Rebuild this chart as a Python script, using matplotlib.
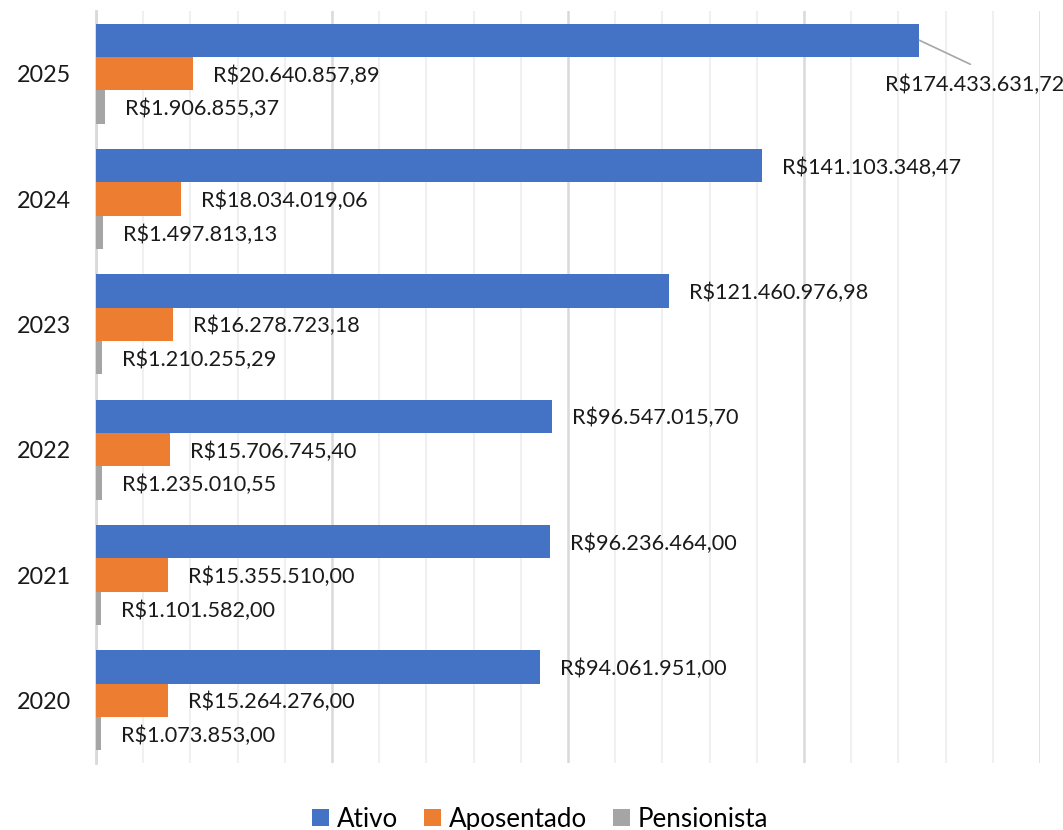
import numpy as np
import matplotlib.pyplot as plt
from matplotlib.ticker import MultipleLocator

# values (R$)
years = ['2020', '2021', '2022', '2023', '2024', '2025']
ativo = [94061951.00, 96236464.00, 96547015.70, 121460976.98, 141103348.47, 174433631.72]
aposentado = [15264276.00, 15355510.00, 15706745.40, 16278723.18, 18034019.06, 20640857.89]
pensionista = [1073853.00, 1101582.00, 1235010.55, 1210255.29, 1497813.13, 1906855.37]

series_names = ['Ativo', 'Aposentado', 'Pensionista']
colors = ['#4472C4', '#ED7D31', '#A5A5A5']

plt.rcParams['font.family'] = ['Lato', 'DejaVu Sans']


def brl(v):
    s = f"{v:,.2f}"
    s = s.replace(',', '_').replace('.', ',').replace('_', '.')
    return 'R$' + s


fig = plt.figure(figsize=(10.63, 8.30), dpi=100)
ax = fig.add_axes([96 / 1063, 1 - 763 / 830, (1040 - 96) / 1063, (763 - 11) / 830])

y = np.arange(len(years))
h = 0.8 / 3
offsets = [h, 0, -h]
all_series = [ativo, aposentado, pensionista]

bars = []
for vals, off, col, name in zip(all_series, offsets, colors, series_names):
    b = ax.barh(y + off, vals, height=h, color=col, label=name, zorder=3)
    bars.append(b)

label_size = 15.6

# data labels
for s_idx, (vals, off) in enumerate(zip(all_series, offsets)):
    for i, v in enumerate(vals):
        if s_idx == 0 and i == len(years) - 1:
            # biggest bar: label pushed out with a leader line
            ax.annotate('', xy=(v, y[i] + off), xytext=(51, -24),
                        textcoords='offset pixels',
                        arrowprops=dict(arrowstyle='-', color='#A6A6A6', lw=1.2,
                                        shrinkA=0, shrinkB=0))
            ax.annotate(brl(v), xy=(v, y[i] + off), xytext=(-34, -45),
                        textcoords='offset pixels', ha='left', va='center',
                        fontsize=label_size, color='#1a1a1a', annotation_clip=False)
        else:
            ax.annotate(brl(v), xy=(v, y[i] + off), xytext=(20, -2),
                        textcoords='offset pixels', ha='left', va='center',
                        fontsize=label_size, color='#1a1a1a', annotation_clip=False)

ax.set_xlim(0, 200e6)
ax.set_ylim(-0.5, len(years) - 0.5)
ax.xaxis.set_major_locator(MultipleLocator(50e6))
ax.xaxis.set_minor_locator(MultipleLocator(10e6))
ax.grid(axis='x', which='minor', color='#F0F0F0', linewidth=1.5, zorder=0)
ax.grid(axis='x', which='major', color='#D9D9D9', linewidth=1.8, zorder=0)
ax.set_axisbelow(True)

for sp in ['top', 'right', 'bottom']:
    ax.spines[sp].set_visible(False)
ax.spines['left'].set_color('#D9D9D9')
ax.spines['left'].set_linewidth(2)

ax.set_yticks(y)
ax.set_yticklabels(years, fontsize=16.8, color='#1a1a1a')
ax.tick_params(axis='y', length=0, pad=18)
ax.tick_params(axis='x', which='both', length=0, labelbottom=False)

fig.legend(handles=bars, labels=series_names, loc='center', ncol=3,
           bbox_to_anchor=(540 / 1063, 1 - 819 / 830), frameon=False,
           fontsize=18.7, handlelength=0.65, handleheight=0.65,
           handletextpad=0.3, columnspacing=1.0)

fig.savefig('out.png', dpi=100)
